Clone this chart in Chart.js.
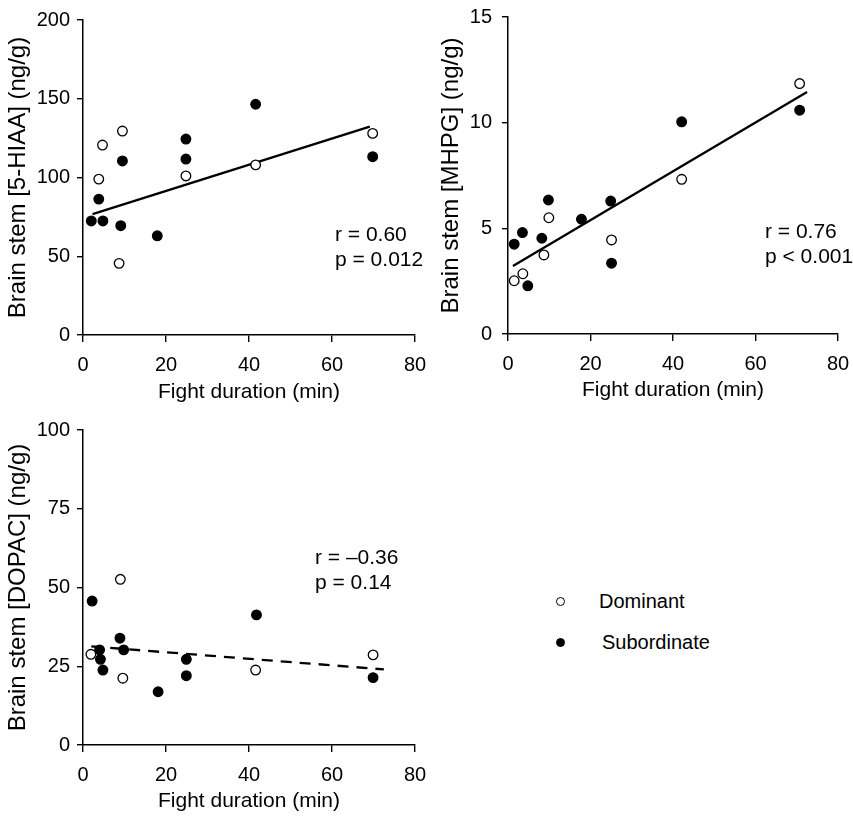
<!DOCTYPE html>
<html>
<head>
<meta charset="utf-8">
<script src="https://cdn.jsdelivr.net/npm/chart.js@4.4.0/dist/chart.umd.min.js"></script>
<style>
  body { margin: 0; background: #fff; width: 853px; height: 818px; position: relative; overflow: hidden;
         font-family: "Liberation Sans", Arial, Helvetica, sans-serif; }
  canvas { position: absolute; }
  .leg { position: absolute; font-size: 20px; color: #000; line-height: 20px; }
  .dot { position: absolute; width: 7px; height: 7px; border-radius: 50%; border: 1.3px solid #000; }
</style>
</head>
<body>
<canvas id="hiaa" width="440" height="405" style="left:0;top:0"></canvas>
<canvas id="mhpg" width="423" height="403" style="left:430px;top:0"></canvas>
<canvas id="dopac" width="440" height="404" style="left:0;top:410px"></canvas>

<div class="dot" style="left:556px;top:597px;background:#fff"></div>
<div class="leg" style="left:599px;top:591px">Dominant</div>
<div class="dot" style="left:556px;top:638px;background:#000"></div>
<div class="leg" style="left:602px;top:632px">Subordinate</div>

<script>
// fight duration (min) and brain stem levels
// 5-HIAA
const hiaaDomX = [4.7, 9.5, 3.8, 8.7, 24.8, 41.6, 69.8];
const hiaaDomY = [120.6, 129.5, 99, 45.5, 101, 108, 128];
const hiaaSubX = [2.0, 4.8, 3.8, 9.5, 9.1, 17.9, 24.8, 24.8, 41.6, 69.8];
const hiaaSubY = [72.4, 72.4, 86.3, 110.5, 69.4, 63, 124.4, 111.7, 146.5, 113.2];
const hiaaFitX = [2.3, 69.1];
const hiaaFitY = [76.8, 132.3];

// MHPG
const mhpgDomX = [70.7, 42.1, 9.9, 8.7, 25.1, 3.6, 1.5];
const mhpgDomY = [11.85, 7.32, 5.5, 3.74, 4.45, 2.85, 2.52];
const mhpgSubX = [70.7, 42.1, 24.9, 25.1, 17.8, 9.8, 8.2, 3.5, 1.5, 4.8];
const mhpgSubY = [10.59, 10.04, 6.29, 3.35, 5.43, 6.34, 4.53, 4.8, 4.25, 2.28];
const mhpgFitX = [1.2, 72.5];
const mhpgFitY = [3.22, 11.45];

// DOPAC
const dopacDomX = [9.0, 1.9, 9.6, 41.6, 69.9];
const dopacDomY = [52.6, 28.8, 21.2, 23.8, 28.6];
const dopacSubX = [2.2, 4.0, 4.2, 4.8, 8.9, 9.8, 18.1, 24.9, 24.9, 41.8, 69.9];
const dopacSubY = [45.7, 30.2, 27.2, 23.8, 33.9, 30.2, 16.9, 27.2, 22.0, 41.3, 21.4];
const dopacFitX = [2, 72.5];
const dopacFitY = [31.3, 24.0];

const FONT = '"Liberation Sans", Arial, Helvetica, sans-serif';
Chart.defaults.font.family = FONT;
Chart.defaults.color = '#000';

const pts = (xs, ys) => xs.map((x, i) => ({ x: x, y: ys[i] }));

// r / p text next to each panel
const notePlugin = {
  id: 'note',
  afterDraw(chart, args, opts) {
    const ctx = chart.ctx;
    ctx.save();
    ctx.font = '21px ' + FONT;
    ctx.fillStyle = '#000';
    ctx.textBaseline = 'middle';
    opts.lines.forEach((t, i) => ctx.fillText(t, opts.x, opts.y + i * 25));
    ctx.restore();
  }
};

// fixed box sizes, no extra room for overhanging tick labels
const fixBox = (s, w, h) => {
  if (w) s.width = w;
  if (h) s.height = h;
  s.paddingLeft = s.paddingRight = s.paddingTop = s.paddingBottom = 0;
};

function panel(id, o) {
  return new Chart(document.getElementById(id), {
    type: 'scatter',
    data: {
      datasets: [
        { label: 'Dominant', data: pts(o.domX, o.domY), backgroundColor: '#fff', borderColor: '#000',
          borderWidth: 1.3, pointRadius: 4.8, clip: false, order: 0 },
        { label: 'Subordinate', data: pts(o.subX, o.subY), backgroundColor: '#000', borderColor: '#000',
          borderWidth: 1.3, pointRadius: 4.8, clip: false, order: 0 },
        { type: 'line', data: pts(o.fitX, o.fitY), borderColor: '#000', borderWidth: 2.3,
          pointRadius: 0, borderDash: o.dash || [], order: 1 }
      ]
    },
    options: {
      responsive: false,
      animation: false,
      layout: { padding: o.pad },
      plugins: { legend: { display: false }, tooltip: { enabled: false }, note: o.note },
      scales: {
        x: {
          type: 'linear', min: 0, max: 80,
          afterFit: s => fixBox(s, 0, o.xH),
          ticks: { stepSize: 20, padding: 11, color: '#000', font: { size: 20 } },
          grid: { drawOnChartArea: false, tickLength: 7, color: '#000', lineWidth: 1.4 },
          border: { color: '#000', width: 1.5 },
          title: { display: true, text: 'Fight duration (min)', color: '#000', font: { size: 21 }, padding: 0 }
        },
        y: {
          type: 'linear', min: o.yMin, max: o.yMax,
          afterFit: s => fixBox(s, o.yW, 0),
          ticks: { stepSize: o.yStep, padding: o.yPad, color: '#000', font: { size: 20 } },
          grid: { drawOnChartArea: false, tickLength: 6, color: '#000', lineWidth: 1.4 },
          border: { color: '#000', width: 1.5 },
          title: { display: true, text: o.yTitle, color: '#000', font: { size: 24 }, padding: 0 }
        }
      }
    },
    plugins: [notePlugin]
  });
}

panel('hiaa', {
  domX: hiaaDomX, domY: hiaaDomY, subX: hiaaSubX, subY: hiaaSubY, fitX: hiaaFitX, fitY: hiaaFitY,
  yMin: 0, yMax: 200, yStep: 50, yTitle: 'Brain stem [5-HIAA] (ng/g)',
  pad: { left: 4, top: 20, right: 25, bottom: 0 }, yW: 79, yPad: 7, xH: 70,
  note: { lines: ['r = 0.60', 'p = 0.012'], x: 335, y: 235 }
});

panel('mhpg', {
  domX: mhpgDomX, domY: mhpgDomY, subX: mhpgSubX, subY: mhpgSubY, fitX: mhpgFitX, fitY: mhpgFitY,
  yMin: 0, yMax: 15, yStep: 5, yTitle: 'Brain stem [MHPG] (ng/g)',
  pad: { left: 7, top: 17, right: 15, bottom: 0 }, yW: 71, yPad: 10, xH: 69,
  note: { lines: ['r = 0.76', 'p < 0.001'], x: 335, y: 232 }
});

panel('dopac', {
  domX: dopacDomX, domY: dopacDomY, subX: dopacSubX, subY: dopacSubY, fitX: dopacFitX, fitY: dopacFitY,
  yMin: 0, yMax: 100, yStep: 25, yTitle: 'Brain stem [DOPAC] (ng/g)', dash: [11, 8],
  pad: { left: 4, top: 20, right: 25, bottom: 0 }, yW: 79, yPad: 7, xH: 69,
  note: { lines: ['r = \u20130.36', 'p = 0.14'], x: 315, y: 148 }
});
</script>
</body>
</html>
